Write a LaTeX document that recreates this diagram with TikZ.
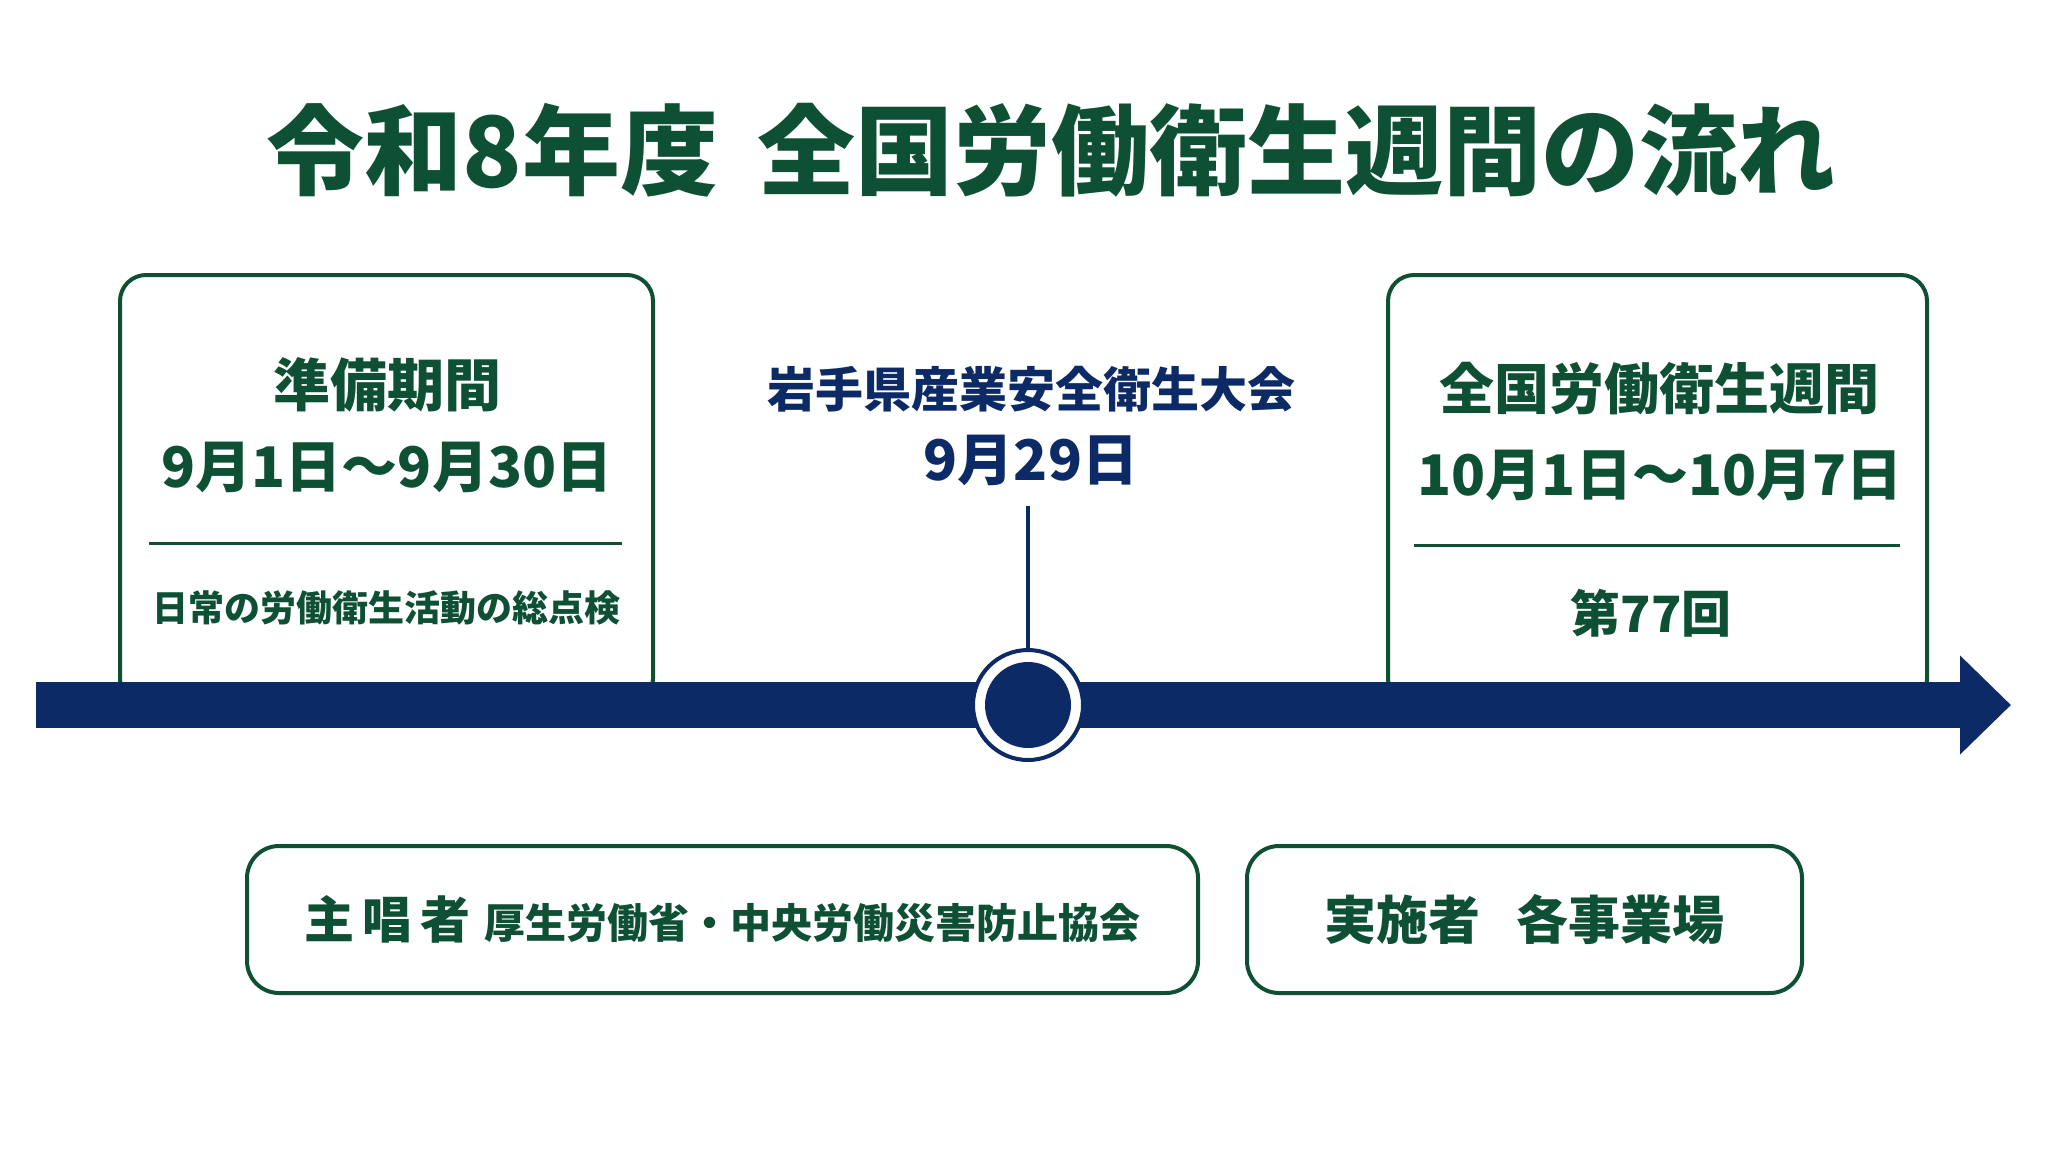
\documentclass[tikz,border=0pt]{standalone}
\usepackage{fontspec}
\setmainfont{Noto Sans CJK JP}
\usetikzlibrary{arrows.meta}
\definecolor{ingreen}{RGB}{14,80,52}
\definecolor{innavy}{RGB}{12,42,102}
\newcommand{\fs}[1]{\fontsize{#1}{#1}\selectfont\bfseries}

\begin{document}
\begin{tikzpicture}[x=0.5pt,y=-0.5pt]
\tikzstyle{every node}=[inner sep=0pt,outer sep=0pt]
\tikzstyle{panel}=[draw=ingreen,line width=2pt,rounded corners=13pt,fill=white,minimum height=215pt]
\tikzstyle{rolebox}=[draw=ingreen,line width=2pt,rounded corners=16pt,fill=white,minimum height=73.5pt]
\tikzstyle{gtext}=[text=ingreen]
\tikzstyle{ntext}=[text=innavy]
\useasboundingbox (0,0) rectangle (2048,1152);

\node[gtext,font=\fs{49}] (title) at (1051,150) {令和8年度\hspace{0.4em}全国労働衛生週間の流れ};

% panels
\node[panel,minimum width=266.5pt] (prep) at (386.5,490) {};
\node[panel,minimum width=269.5pt] (week) at (1657.5,490) {};
\draw[ingreen,line width=1.5pt] (149,543) -- (622,543);
\draw[ingreen,line width=1.5pt] (1414,545) -- (1900,545);

\node[gtext,font=\fs{28.5}] (prephead) at (387,385) {準備期間};
\node[gtext,font=\fs{28}] (prepdate) at (387,467) {9月1日〜9月30日};
\node[gtext,font=\fs{18}] (prepnote) at (386,608) {日常の労働衛生活動の総点検};

\node[gtext,font=\fs{27.5}] (weekhead) at (1659,389) {全国労働衛生週間};
\node[gtext,font=\fs{28}] (weekdate) at (1660,475) {10月1日〜10月7日};
\node[gtext,font=\fs{25}] (weeknote) at (1651,613) {第77回};

% timeline
\coordinate (start) at (36,705);
\coordinate (end) at (2011,705);
\draw[innavy,line width=23pt,-{Triangle[length=25.5pt,width=48pt]}] (start) -- (end);

\node[draw=innavy,line width=2pt,fill=white,circle,minimum size=55pt] (ring) at (1028,705) {};
\node[fill=innavy,circle,minimum size=43pt] (dot) at (ring.center) {};
\coordinate (stem) at (1028,506);
\draw[innavy,line width=2pt] (stem) -- (ring.north);

\node[ntext,font=\fs{24}] (meet) at (1031,389) {岩手県産業安全衛生大会};
\node[ntext,font=\fs{28}] (meetdate) at (1031,460) {9月29日};

% roles
\node[rolebox,minimum width=475.5pt] (promoter) at (722.5,919.5) {};
\node[rolebox,minimum width=277.5pt] (doer) at (1524.5,919.5) {};
\node[gtext] (promotertext) at (promoter.center) {{\fs{25}主\,唱\,者}\hspace{0.7em}{\fs{20.5}厚生労働省・中央労働災害防止協会}};
\node[gtext,font=\fs{26}] (doertext) at (doer.center) {実施者\hspace{0.7em}各事業場};
\end{tikzpicture}
\end{document}
